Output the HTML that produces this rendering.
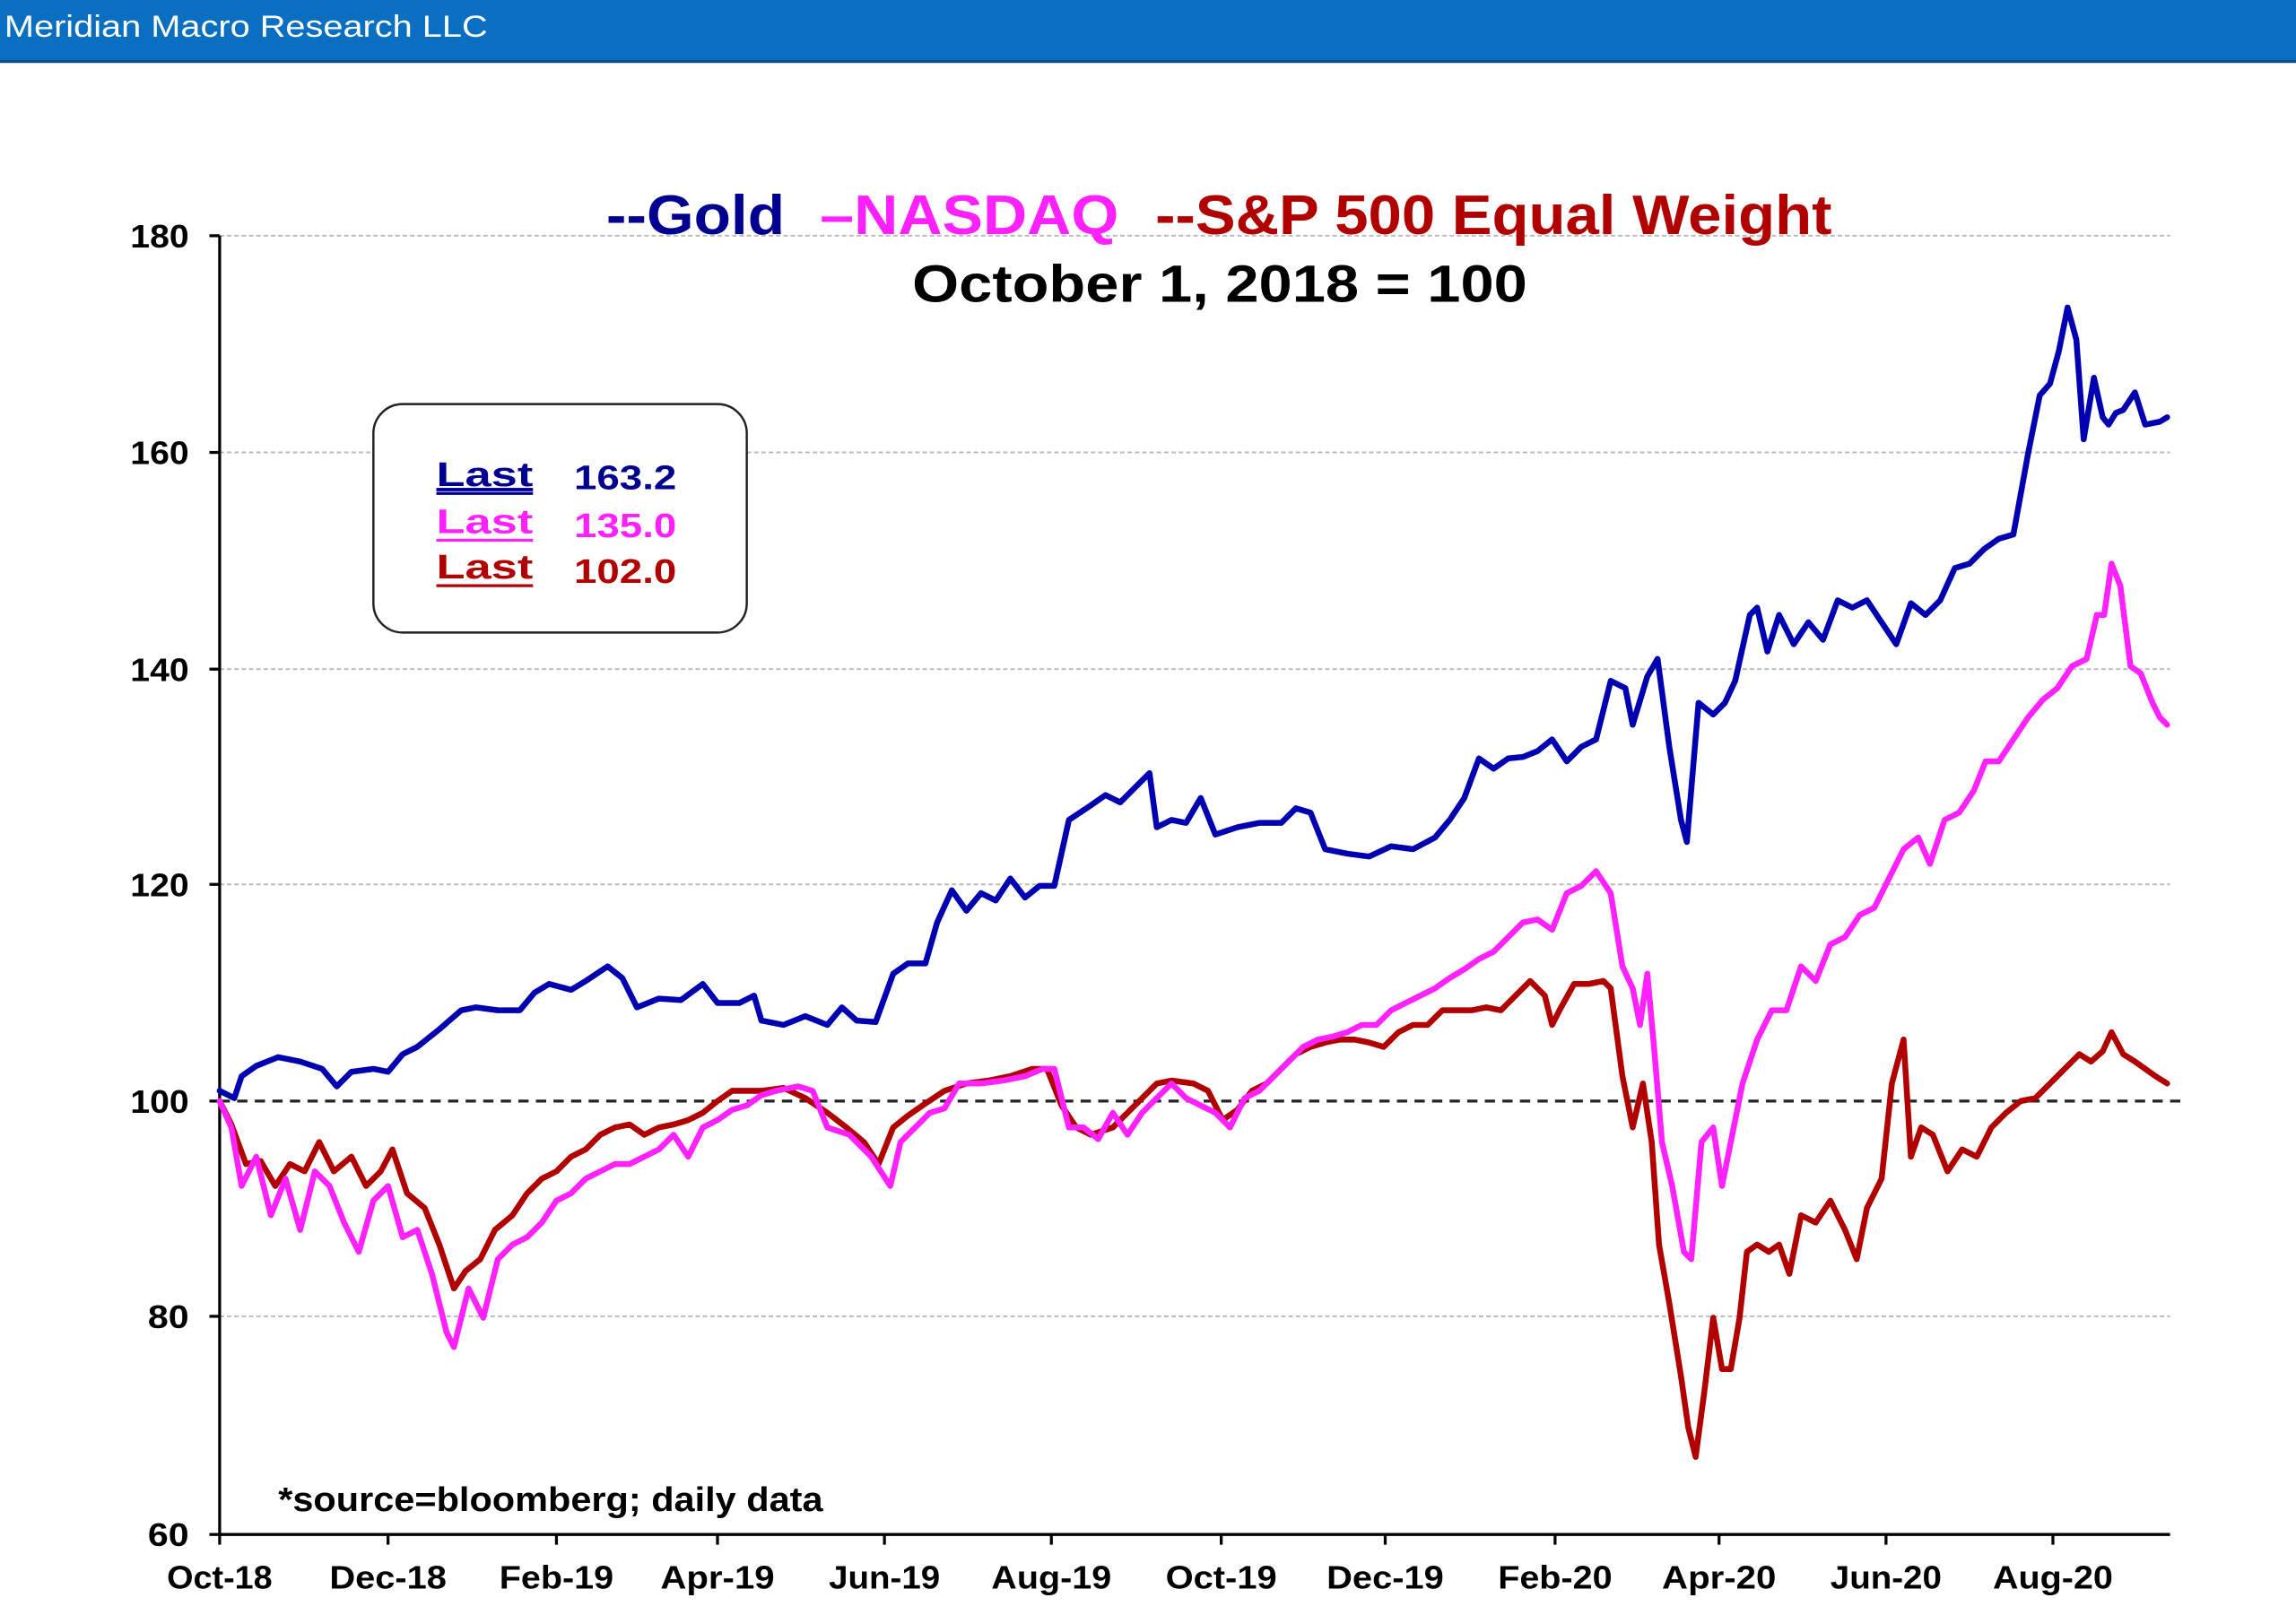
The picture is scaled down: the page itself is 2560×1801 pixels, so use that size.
<!DOCTYPE html>
<html><head><meta charset="utf-8"><style>
html,body{margin:0;padding:0;background:#fff;}
svg{display:block;}
</style></head><body>
<svg width="2560" height="1801" viewBox="0 0 1568 1103" preserveAspectRatio="none" xmlns="http://www.w3.org/2000/svg">
<rect x="0" y="0" width="1568" height="1103" fill="#fff"/>
<rect x="0" y="0" width="1568" height="42" fill="#0a6fc0"/>
<rect x="0" y="41" width="1568" height="2" fill="#0a4f8a"/>
<text x="3" y="25" font-family="Liberation Sans, sans-serif" font-size="21" fill="#fff" textLength="330" lengthAdjust="spacingAndGlyphs">Meridian Macro Research LLC</text>

<g stroke="#bbb" stroke-width="1.2" stroke-dasharray="3,2">
<line x1="150" y1="161" x2="1482" y2="161"/>
<line x1="150" y1="309" x2="1482" y2="309"/>
<line x1="150" y1="457" x2="1482" y2="457"/>
<line x1="150" y1="604" x2="1482" y2="604"/>
<line x1="150" y1="899" x2="1482" y2="899"/>
</g>
<line x1="150" y1="752" x2="1490" y2="752" stroke="#222" stroke-width="2" stroke-dasharray="7,5"/>

<g stroke="#000" stroke-width="2">
<line x1="150" y1="161" x2="150" y2="1048"/>
<line x1="150" y1="1048" x2="1482" y2="1048"/>
<line x1="143" y1="161" x2="150" y2="161"/>
<line x1="143" y1="309" x2="150" y2="309"/>
<line x1="143" y1="457" x2="150" y2="457"/>
<line x1="143" y1="604" x2="150" y2="604"/>
<line x1="143" y1="752" x2="150" y2="752"/>
<line x1="143" y1="899" x2="150" y2="899"/>
<line x1="143" y1="1048" x2="150" y2="1048"/>
<line x1="150" y1="1048" x2="150" y2="1055"/>
<line x1="265" y1="1048" x2="265" y2="1055"/>
<line x1="380" y1="1048" x2="380" y2="1055"/>
<line x1="490" y1="1048" x2="490" y2="1055"/>
<line x1="604" y1="1048" x2="604" y2="1055"/>
<line x1="718" y1="1048" x2="718" y2="1055"/>
<line x1="834" y1="1048" x2="834" y2="1055"/>
<line x1="946" y1="1048" x2="946" y2="1055"/>
<line x1="1062" y1="1048" x2="1062" y2="1055"/>
<line x1="1174" y1="1048" x2="1174" y2="1055"/>
<line x1="1288" y1="1048" x2="1288" y2="1055"/>
<line x1="1402" y1="1048" x2="1402" y2="1055"/>
</g>

<g font-family="Liberation Sans, sans-serif" font-weight="bold" font-size="22" fill="#000" text-anchor="end">
<text x="129" y="169" textLength="40" lengthAdjust="spacingAndGlyphs">180</text>
<text x="129" y="317" textLength="40" lengthAdjust="spacingAndGlyphs">160</text>
<text x="129" y="465" textLength="40" lengthAdjust="spacingAndGlyphs">140</text>
<text x="129" y="612" textLength="40" lengthAdjust="spacingAndGlyphs">120</text>
<text x="129" y="760" textLength="40" lengthAdjust="spacingAndGlyphs">100</text>
<text x="129" y="907" textLength="28" lengthAdjust="spacingAndGlyphs">80</text>
<text x="129" y="1056" textLength="28" lengthAdjust="spacingAndGlyphs">60</text>
</g>
<g font-family="Liberation Sans, sans-serif" font-weight="bold" font-size="22" fill="#000" text-anchor="middle">
<text x="150" y="1085" textLength="72" lengthAdjust="spacingAndGlyphs">Oct-18</text>
<text x="265" y="1085" textLength="80" lengthAdjust="spacingAndGlyphs">Dec-18</text>
<text x="380" y="1085" textLength="78" lengthAdjust="spacingAndGlyphs">Feb-19</text>
<text x="490" y="1085" textLength="78" lengthAdjust="spacingAndGlyphs">Apr-19</text>
<text x="604" y="1085" textLength="76" lengthAdjust="spacingAndGlyphs">Jun-19</text>
<text x="718" y="1085" textLength="82" lengthAdjust="spacingAndGlyphs">Aug-19</text>
<text x="834" y="1085" textLength="76" lengthAdjust="spacingAndGlyphs">Oct-19</text>
<text x="946" y="1085" textLength="80" lengthAdjust="spacingAndGlyphs">Dec-19</text>
<text x="1062" y="1085" textLength="78" lengthAdjust="spacingAndGlyphs">Feb-20</text>
<text x="1174" y="1085" textLength="78" lengthAdjust="spacingAndGlyphs">Apr-20</text>
<text x="1288" y="1085" textLength="76" lengthAdjust="spacingAndGlyphs">Jun-20</text>
<text x="1402" y="1085" textLength="82" lengthAdjust="spacingAndGlyphs">Aug-20</text>
</g>

<g font-family="Liberation Sans, sans-serif" font-weight="bold" font-size="38">
<text x="414" y="160" fill="#000090" textLength="122" lengthAdjust="spacingAndGlyphs">--Gold</text>
<text x="560" y="160" fill="#ff20ff" textLength="204" lengthAdjust="spacingAndGlyphs">–NASDAQ</text>
<text x="789" y="160" fill="#b00000" textLength="462" lengthAdjust="spacingAndGlyphs">--S&amp;P 500 Equal Weight</text>
<text x="623" y="206" fill="#000" font-size="36" textLength="420" lengthAdjust="spacingAndGlyphs">October 1, 2018 = 100</text>
</g>

<rect x="255" y="276" width="255" height="156" rx="20" ry="20" fill="#fff" stroke="#222" stroke-width="1.5"/>
<g font-family="Liberation Sans, sans-serif" font-weight="bold" font-size="23">
<text x="298" y="332" fill="#000090" text-decoration="underline" textLength="66" lengthAdjust="spacingAndGlyphs">Last</text>
<text x="392" y="334" fill="#000090" textLength="70" lengthAdjust="spacingAndGlyphs">163.2</text>
<line x1="298" y1="337" x2="364" y2="337" stroke="#000090" stroke-width="2"/>
<text x="298" y="364" fill="#ff20ff" textLength="66" lengthAdjust="spacingAndGlyphs">Last</text>
<text x="392" y="367" fill="#ff20ff" textLength="70" lengthAdjust="spacingAndGlyphs">135.0</text>
<line x1="298" y1="369" x2="364" y2="369" stroke="#ff20ff" stroke-width="2"/>
<text x="298" y="395" fill="#b00000" textLength="66" lengthAdjust="spacingAndGlyphs">Last</text>
<text x="392" y="398" fill="#b00000" textLength="70" lengthAdjust="spacingAndGlyphs">102.0</text>
<line x1="298" y1="400" x2="364" y2="400" stroke="#b00000" stroke-width="2"/>
</g>

<text x="190" y="1032" font-family="Liberation Sans, sans-serif" font-weight="bold" font-size="23" fill="#000" textLength="372" lengthAdjust="spacingAndGlyphs">*source=bloomberg; daily data</text>

<g fill="none" stroke-width="4" stroke-linejoin="round" stroke-linecap="round">
<polyline stroke="#b00000" points="150,752 158,768 168,795 178,793 188,810 198,795 208,800 218,780 228,800 240,790 250,810 260,800 268,785 278,815 290,825 300,850 310,880 318,868 328,860 338,840 350,830 360,815 370,805 380,800 390,790 400,785 410,775 420,770 430,768 440,775 450,770 460,768 470,765 480,760 490,752 500,745 510,745 520,745 535,743 550,750 565,760 578,770 590,780 600,795 610,770 620,762 630,755 645,745 660,740 675,738 690,735 705,730 715,730 725,755 735,770 745,775 760,770 770,760 780,750 790,740 800,738 815,740 825,745 835,765 845,758 855,745 865,740 875,730 885,720 895,715 905,712 915,710 925,710 935,712 945,715 955,705 965,700 975,700 985,690 995,690 1005,690 1015,688 1025,690 1035,680 1045,670 1055,680 1060,700 1065,690 1075,672 1085,672 1095,670 1100,675 1108,735 1115,770 1122,740 1128,780 1133,850 1140,890 1148,940 1153,975 1158,995 1164,950 1170,900 1176,935 1182,935 1188,900 1193,855 1200,850 1208,855 1215,850 1222,870 1230,830 1240,835 1250,820 1260,840 1268,860 1275,825 1285,805 1292,740 1300,710 1305,790 1312,770 1320,775 1330,800 1340,785 1350,790 1360,770 1370,760 1380,752 1390,750 1400,740 1410,730 1420,720 1428,725 1436,718 1442,705 1450,720 1458,725 1465,730 1472,735 1480,740"/>
<polyline stroke="#ff22ff" points="150,752 158,770 165,810 175,790 185,830 195,805 205,840 215,800 225,810 235,835 245,855 255,820 265,810 275,845 285,840 295,870 305,910 310,920 320,880 330,900 340,860 350,850 360,845 370,835 380,820 390,815 400,805 410,800 420,795 430,795 440,790 450,785 460,775 470,790 480,770 490,765 500,758 510,755 520,748 530,745 545,742 555,745 565,770 580,775 595,790 608,810 615,780 625,770 635,760 645,757 655,740 670,740 685,738 700,735 712,730 720,730 730,770 740,770 750,778 760,760 770,775 780,760 790,750 800,740 810,750 820,755 830,760 840,770 850,750 860,745 870,735 880,725 890,715 900,710 910,708 920,705 930,700 940,700 950,690 960,685 970,680 980,675 990,668 1000,662 1010,655 1020,650 1030,640 1040,630 1050,628 1060,635 1070,610 1080,605 1090,595 1100,610 1108,660 1115,675 1120,700 1125,665 1130,720 1135,780 1142,810 1150,855 1155,860 1162,780 1170,770 1176,810 1182,780 1190,740 1200,710 1210,690 1220,690 1230,660 1240,670 1250,645 1260,640 1270,625 1280,620 1290,600 1300,580 1310,572 1318,590 1328,560 1338,555 1348,540 1356,520 1365,520 1375,505 1385,490 1395,478 1405,470 1415,455 1425,450 1432,420 1437,420 1442,385 1448,400 1455,455 1462,460 1470,480 1475,490 1480,495"/>
<polyline stroke="#0000b0" points="150,745 160,750 165,735 175,728 190,722 205,725 220,730 230,742 240,732 255,730 265,732 275,720 285,715 300,703 315,690 325,688 340,690 355,690 365,678 375,672 390,676 400,670 415,660 425,668 435,688 450,682 465,683 480,672 490,685 505,685 515,680 520,697 535,700 550,694 565,700 575,688 585,697 598,698 610,665 620,658 632,658 640,630 650,608 660,622 670,610 680,615 690,600 700,613 710,605 720,605 730,560 745,550 755,543 765,548 775,538 785,528 790,565 800,560 810,562 820,545 830,570 845,565 860,562 875,562 885,552 895,555 905,580 920,583 935,585 950,578 965,580 980,572 990,560 1000,545 1010,518 1020,525 1030,518 1040,517 1050,513 1060,505 1070,520 1080,510 1090,505 1100,465 1110,470 1115,495 1125,462 1132,450 1140,510 1148,560 1152,575 1160,480 1170,488 1178,480 1185,465 1195,420 1200,415 1207,445 1215,420 1225,440 1235,425 1245,437 1255,410 1265,415 1275,410 1285,425 1295,440 1305,412 1315,420 1325,410 1335,388 1345,385 1355,375 1365,368 1375,365 1385,310 1393,270 1400,262 1406,240 1412,210 1418,232 1423,300 1430,258 1436,285 1440,290 1445,282 1450,280 1458,268 1465,290 1475,288 1480,285"/>
</g>
</svg>
</body></html>
